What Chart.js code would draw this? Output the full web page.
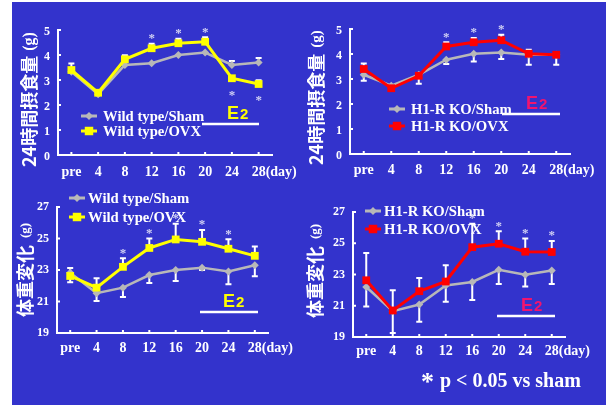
<!DOCTYPE html>
<html><head><meta charset="utf-8">
<script src="https://cdn.jsdelivr.net/npm/chart.js@4.4.1/dist/chart.umd.min.js"></script>
<style>
html,body{margin:0;padding:0;background:#fff;width:606px;height:405px;overflow:hidden}
#bg{position:absolute;left:12px;top:2px;width:594px;height:403px;background:#3333cc}
canvas{position:absolute}
</style></head><body>
<div id="bg"></div>
<canvas id="c1" style="left:0;top:0;width:303px;height:195px" width="303" height="195"></canvas>
<canvas id="c2" style="left:303px;top:0;width:303px;height:195px" width="303" height="195"></canvas>
<canvas id="c3" style="left:0;top:190px;width:303px;height:215px" width="303" height="215"></canvas>
<canvas id="c4" style="left:303px;top:190px;width:303px;height:215px" width="303" height="215"></canvas>
<script>
// ---- data ----
const days = ['pre','4','8','12','16','20','24','28'];

// Wild type, 24h food intake (g)
const wtIntakeSham      = [3.33, 2.43, 3.60, 3.67, 4.00, 4.10, 3.60, 3.70];
const wtIntakeShamErrUp = [0, 0, 0, 0, 0, 0, 0.16, 0.18];
const wtIntakeOvx       = [3.40, 2.49, 3.83, 4.27, 4.47, 4.53, 3.07, 2.84];
const wtIntakeOvxErrUp  = [0.26, 0.05, 0.16, 0.18, 0.18, 0.18, 0, 0.15];
const wtIntakeStars     = [0, 0, 0, 1, 1, 1, -1, -1];

// H1-R KO, 24h food intake (g)
const koIntakeSham        = [3.17, 2.73, 3.17, 3.77, 4.01, 4.06, 3.97, 3.97];
const koIntakeShamErrDown = [0.24, 0.08, 0.36, 0.17, 0.31, 0.26, 0.40, 0.40];
const koIntakeOvx         = [3.40, 2.63, 3.13, 4.30, 4.47, 4.55, 4.01, 3.97];
const koIntakeOvxErrUp    = [0.22, 0, 0.05, 0.17, 0.17, 0.22, 0.16, 0.05];
const koIntakeStars       = [0, 0, 0, 1, 1, 1, 0, 0];

// Wild type, body weight (g)
const wtWeightSham        = [22.83, 21.53, 21.88, 22.68, 23.00, 23.15, 22.90, 23.30];
const wtWeightShamErrDown = [0.60, 0.50, 0.60, 0.50, 0.70, 0.15, 0.80, 0.70];
const wtWeightOvx         = [22.62, 21.88, 23.20, 24.40, 24.94, 24.79, 24.35, 23.90];
const wtWeightOvxErrUp    = [0.50, 0.60, 0.55, 0.60, 1.00, 0.75, 0.60, 0.60];
const wtWeightStars       = [0, 0, 1, 1, 1, 1, 1, 0];

// H1-R KO, body weight (g)
const koWeightSham        = [22.20, 20.65, 21.08, 22.30, 22.52, 23.30, 22.99, 23.25];
const koWeightShamErrDown = [1.25, 1.40, 1.10, 1.05, 1.15, 0.90, 0.75, 0.85];
const koWeightOvx         = [22.63, 20.70, 21.93, 22.55, 24.75, 24.97, 24.46, 24.44];
const koWeightOvxErrUp    = [1.75, 1.30, 0.85, 1.05, 1.50, 0.80, 0.85, 0.70];
const koWeightStars       = [0, 0, 0, 0, 1, 1, 1, 1];

const intakeTicks = [0, 5, 1];   // min, max, step
const weightTicks = [19, 27, 2];
const wtNames = ['Wild type/Sham', 'Wild type/OVX'];
const koNames = ['H1-R KO/Sham', 'H1-R KO/OVX'];
const intakeTitle = '24時間摂食量';
const weightTitle = '体重変化';
const footnote = 'p < 0.05 vs sham';

// ---- styling ----
const SERIF = '"Liberation Serif", "Times New Roman", serif';
const SANS = '"Liberation Sans", Arial, sans-serif';
const CJK = '"Noto Sans CJK JP", "Noto Sans CJK SC", sans-serif';
const GRAY = '#b8b8b8', YELLOW = '#ffff00', RED = '#ff0000', PINK = '#f0146e', STAR = '#d0d0f4';

function drawMarker(ctx, style, x, y, r, color) {
  ctx.save();
  ctx.fillStyle = color;
  ctx.beginPath();
  if (style === 'rect') {
    const s = r * Math.SQRT1_2;
    ctx.rect(x - s, y - s, 2 * s, 2 * s);
  } else {
    ctx.moveTo(x, y - r); ctx.lineTo(x + r, y); ctx.lineTo(x, y + r); ctx.lineTo(x - r, y); ctx.closePath();
  }
  ctx.fill();
  ctx.restore();
}

function decor(p) {
  return {
    id: 'decor',
    beforeDatasetsDraw(chart) {
      const ctx = chart.ctx, xs = chart.scales.x, ys = chart.scales.y;
      ctx.save();
      ctx.strokeStyle = '#fff';
      ctx.lineWidth = 2;
      const bar = (vals, errs, dir) => {
        vals.forEach((v, i) => {
          const e = errs[i];
          if (!e) return;
          const x = xs.getPixelForValue(i);
          const y0 = ys.getPixelForValue(v), y1 = ys.getPixelForValue(v + dir * e);
          ctx.beginPath(); ctx.moveTo(x, y0); ctx.lineTo(x, y1);
          ctx.moveTo(x - 3, y1); ctx.lineTo(x + 3, y1); ctx.stroke();
        });
      };
      p.errs.forEach(e => bar(e[0], e[1], e[2]));
      ctx.restore();
    },
    afterDraw(chart) {
      const ctx = chart.ctx, xs = chart.scales.x, ys = chart.scales.y, a = chart.chartArea;
      ctx.save();
      // inward tick marks
      ctx.strokeStyle = '#fff'; ctx.lineWidth = 2;
      days.forEach((d, i) => {
        const x = xs.getPixelForValue(i);
        ctx.beginPath(); ctx.moveTo(x, a.bottom); ctx.lineTo(x, a.bottom - 3); ctx.stroke();
      });
      for (let v = p.ticks[0]; v <= p.ticks[1]; v += p.ticks[2]) {
        const y = ys.getPixelForValue(v);
        ctx.beginPath(); ctx.moveTo(a.left, y); ctx.lineTo(a.left + 3, y); ctx.stroke();
      }
      // (day)
      ctx.fillStyle = '#fff';
      ctx.font = 'bold 14px ' + SERIF;
      ctx.textAlign = 'left'; ctx.textBaseline = 'middle';
      ctx.fillText('(day)', xs.getPixelForValue(7) + 7, a.bottom + p.xPad + 8.4);
      // stars
      ctx.fillStyle = STAR;
      ctx.font = 'bold 13px ' + SERIF;
      ctx.textAlign = 'center'; ctx.textBaseline = 'middle';
      p.stars.forEach((s, i) => {
        if (!s) return;
        const x = xs.getPixelForValue(i);
        let y;
        if (s > 0) y = ys.getPixelForValue(p.ovx[i] + p.ovxUp[i]) - 8;
        else y = ys.getPixelForValue(p.ovx[i]) + 14;
        ctx.fillText('*', x, y + 3);
      });
      // legend
      ctx.lineWidth = 3;
      const leg = (L, color, style, r, name) => {
        ctx.strokeStyle = color;
        ctx.beginPath(); ctx.moveTo(L.x1, L.y); ctx.lineTo(L.x2, L.y); ctx.stroke();
        drawMarker(ctx, style, (L.x1 + L.x2) / 2, L.y, r, color);
        ctx.fillStyle = '#fff';
        ctx.font = 'bold 14.7px ' + SERIF;
        ctx.textAlign = 'left'; ctx.textBaseline = 'middle';
        ctx.fillText(name, L.tx, L.y + 1);
      };
      leg(p.leg[0], GRAY, 'rectRot', 4, p.names[0]);
      leg(p.leg[1], p.color, 'rect', 6, p.names[1]);
      // E2
      ctx.fillStyle = p.e2color;
      ctx.textAlign = 'left'; ctx.textBaseline = 'alphabetic';
      ctx.font = 'bold 18px ' + SANS;
      ctx.fillText('E', p.e2.x, p.e2.y);
      const ew = ctx.measureText('E').width;
      ctx.font = 'bold 15px ' + SANS;
      ctx.fillText('2', p.e2.x + ew + 1, p.e2.y);
      ctx.strokeStyle = '#fff'; ctx.lineWidth = 2.5;
      ctx.beginPath(); ctx.moveTo(p.e2.l1, p.e2.ly); ctx.lineTo(p.e2.l2, p.e2.ly); ctx.stroke();
      // rotated y title
      ctx.save();
      ctx.translate(p.title.x, p.title.y);
      ctx.rotate(-Math.PI / 2);
      ctx.fillStyle = '#fff';
      ctx.textAlign = 'left'; ctx.textBaseline = 'middle';
      ctx.font = 'bold 18px ' + CJK;
      ctx.fillText(p.titleText, 0, 0);
      const tw = ctx.measureText(p.titleText).width;
      ctx.font = 'bold ' + p.title.gs + 'px ' + SERIF;
      ctx.fillText(p.title.g, tw + p.title.gap, 1);
      ctx.restore();
      // footnote
      if (p.foot) {
        ctx.fillStyle = '#fff';
        ctx.textAlign = 'left'; ctx.textBaseline = 'alphabetic';
        ctx.font = 'bold 26px ' + SERIF;
        ctx.fillText('*', p.foot.x, p.foot.y + 3);
        ctx.font = 'bold 20px ' + SERIF;
        ctx.fillText(footnote, p.foot.x + 19, p.foot.y);
      }
      ctx.restore();
    }
  };
}

function makePanel(id, p) {
  return new Chart(document.getElementById(id), {
    type: 'line',
    data: {
      labels: days,
      datasets: [
        { label: p.names[1], data: p.ovx, borderColor: p.color, backgroundColor: p.color,
          pointStyle: 'rect', pointRadius: 5.5, pointBorderWidth: 0, borderWidth: 3, tension: 0, clip: false },
        { label: p.names[0], data: p.sham, borderColor: GRAY, backgroundColor: GRAY,
          pointStyle: 'rectRot', pointRadius: 4, pointBorderWidth: 0, borderWidth: 2.5, tension: 0, clip: false }
      ]
    },
    options: {
      responsive: false, animation: false, events: [],
      layout: { autoPadding: false, padding: p.pad },
      plugins: { legend: { display: false }, tooltip: { enabled: false } },
      scales: {
        x: {
          offset: true,
          grid: { display: false, drawTicks: false },
          border: { color: '#fff', width: 2 },
          ticks: { color: '#fff', font: { family: SERIF, weight: 'bold', size: 14 }, padding: p.xPad, maxRotation: 0, autoSkip: false },
          afterFit: s => { s.height = 30; }
        },
        y: {
          min: p.ticks[0], max: p.ticks[1],
          grid: { display: false, drawTicks: false },
          border: { color: '#fff', width: 2 },
          ticks: { stepSize: p.ticks[2], color: '#fff', font: { family: SERIF, weight: 'bold', size: 12 }, padding: 8, labelOffset: p.yOff },
          afterFit: s => { s.width = 30; }
        }
      }
    },
    plugins: [decor(p)]
  });
}

makePanel('c1', {
  sham: wtIntakeSham, ovx: wtIntakeOvx, ovxUp: wtIntakeOvxErrUp, stars: wtIntakeStars,
  errs: [[wtIntakeSham, wtIntakeShamErrUp, 1], [wtIntakeOvx, wtIntakeOvxErrUp, 1]],
  ticks: intakeTicks, names: wtNames, color: YELLOW, e2color: YELLOW, titleText: intakeTitle,
  pad: { left: 28, top: 30, right: 31, bottom: 10 }, xPad: 9, yOff: 2,
  leg: [{ x1: 81, x2: 97, y: 116, tx: 103 }, { x1: 81, x2: 97, y: 131, tx: 103 }],
  e2: { x: 227, y: 119, l1: 202, l2: 259, ly: 124 },
  title: { x: 29, y: 167, g: '(g)', gs: 16, gap: 5 }
});
makePanel('c2', {
  sham: koIntakeSham, ovx: koIntakeOvx, ovxUp: koIntakeOvxErrUp, stars: koIntakeStars,
  errs: [[koIntakeSham, koIntakeShamErrDown, -1], [koIntakeOvx, koIntakeOvxErrUp, 1]],
  ticks: intakeTicks, names: koNames, color: RED, e2color: PINK, titleText: intakeTitle,
  pad: { left: 17, top: 29, right: 36, bottom: 11 }, xPad: 8, yOff: 2,
  leg: [{ x1: 86, x2: 102, y: 109, tx: 108 }, { x1: 86, x2: 102, y: 126, tx: 108 }],
  e2: { x: 223, y: 109, l1: 199, l2: 257, ly: 114 },
  title: { x: 13, y: 165, g: '(g)', gs: 15, gap: 6 }
});
makePanel('c3', {
  sham: wtWeightSham, ovx: wtWeightOvx, ovxUp: wtWeightOvxErrUp, stars: wtWeightStars,
  errs: [[wtWeightSham, wtWeightShamErrDown, -1], [wtWeightOvx, wtWeightOvxErrUp, 1]],
  ticks: weightTicks, names: wtNames, color: YELLOW, e2color: YELLOW, titleText: weightTitle,
  pad: { left: 27, top: 17, right: 35, bottom: 42 }, xPad: 7, yOff: 0,
  leg: [{ x1: 69, x2: 85, y: 8, tx: 88 }, { x1: 69, x2: 85, y: 27, tx: 88 }],
  e2: { x: 223, y: 117, l1: 200, l2: 258, ly: 122 },
  title: { x: 25, y: 127, g: '(g)', gs: 13, gap: 7 }
});
makePanel('c4', {
  sham: koWeightSham, ovx: koWeightOvx, ovxUp: koWeightOvxErrUp, stars: koWeightStars,
  errs: [[koWeightSham, koWeightShamErrDown, -1], [koWeightOvx, koWeightOvxErrUp, 1]],
  ticks: weightTicks, names: koNames, color: RED, e2color: PINK, titleText: weightTitle,
  pad: { left: 20, top: 22, right: 41, bottom: 38 }, xPad: 6, yOff: 0,
  leg: [{ x1: 62, x2: 78, y: 21, tx: 81 }, { x1: 62, x2: 78, y: 39, tx: 81 }],
  e2: { x: 218, y: 121, l1: 194, l2: 252, ly: 126 },
  title: { x: 12, y: 128, g: '(g)', gs: 13, gap: 7 },
  foot: { x: 118, y: 197 }
});
</script>
</body></html>
